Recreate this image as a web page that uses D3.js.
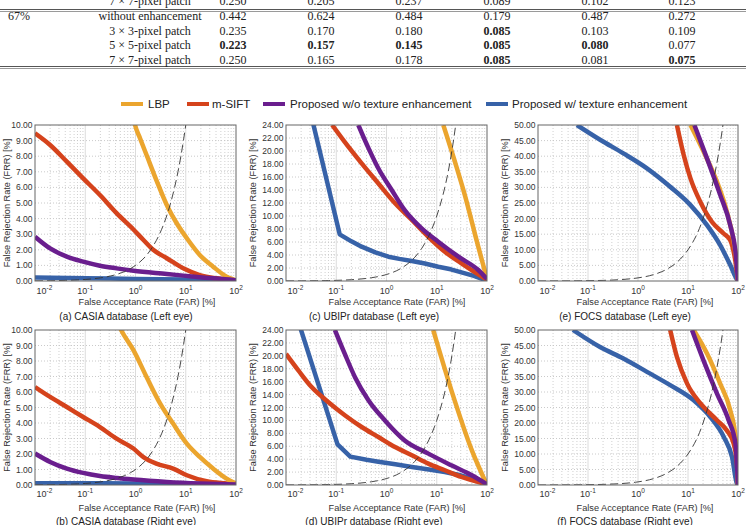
<!DOCTYPE html>
<html><head><meta charset="utf-8">
<script src="https://cdn.jsdelivr.net/npm/d3@7"></script>
<style>body{margin:0;background:#fff}svg{display:block}</style>
</head><body>
<svg id="c" width="747" height="525"></svg>
<script>
// ---------- table data ----------
const tableRowLabels = ["7 × 7-pixel patch","without enhancement","3 × 3-pixel patch","5 × 5-pixel patch","7 × 7-pixel patch"];
const tableGroupLabel = "67%";
const tableValues = [
  [0.250,0.205,0.237,0.089,0.102,0.123],
  [0.442,0.624,0.484,0.179,0.487,0.272],
  [0.235,0.170,0.180,0.085,0.103,0.109],
  [0.223,0.157,0.145,0.085,0.080,0.077],
  [0.250,0.165,0.178,0.085,0.081,0.075]
];
const tableBold = [
  [0,0,0,0,0,0],
  [0,0,0,0,0,0],
  [0,0,0,1,0,0],
  [1,1,1,1,1,0],
  [0,0,0,1,0,1]
];

// ---------- legend ----------
const seriesNames = ["LBP","m-SIFT","Proposed w/o texture enhancement","Proposed w/ texture enhancement"];
const seriesColors = ["#EBA52E","#D5431C","#6A1E8E","#3762A8"];

// ---------- axis tick labels ----------
const farTicks = [0.01,0.1,1,10,100];
const farTickExp = ["-2","-1","0","1","2"];
const xAxisTitle = "False Acceptance Rate (FAR) [%]";
const yAxisTitle = "False Rejection Rate (FRR) [%]";

// ---------- curve data: [FAR %, FRR %] ----------
// (a) CASIA left
const casiaLeftLBP   = [[0.92,10.4],[0.98,10.0],[1.23,9.15],[1.66,8.08],[2.6,6.47],[4.5,4.66],[6.6,3.70],[10.5,2.74],[19,1.67],[35,0.92],[65,0.28],[95,0.06],[100,0.03]];
const casiaLeftSIFT  = [[0.01,9.47],[0.02,8.72],[0.043,7.65],[0.091,6.58],[0.196,5.51],[0.42,4.35],[0.91,3.3],[1.44,2.63],[2.25,2.0],[4.2,1.46],[8.9,0.81],[19,0.38],[41,0.17],[89,0.06],[100,0.04]];
const casiaLeftWo    = [[0.01,2.84],[0.02,2.09],[0.043,1.56],[0.091,1.24],[0.196,0.98],[0.42,0.81],[0.91,0.66],[4.2,0.45],[19,0.24],[89,0.06],[100,0.04]];
const casiaLeftW     = [[0.01,0.22],[0.1,0.18],[1,0.13],[10,0.09],[100,0.04]];
// (b) CASIA right
const casiaRightLBP  = [[0.45,10.4],[0.52,9.98],[0.91,8.7],[1.66,6.97],[3.1,5.25],[5.6,3.96],[10.5,2.67],[19,1.81],[35,1.06],[65,0.41],[100,0.09]];
const casiaRightSIFT = [[0.01,6.32],[0.02,5.68],[0.043,5.03],[0.091,4.39],[0.196,3.74],[0.42,2.99],[0.91,2.35],[1.44,1.80],[2.6,1.38],[5.6,1.06],[10.5,0.63],[26,0.24],[65,0.09],[100,0.03]];
const casiaRightWo   = [[0.01,2.03],[0.02,1.49],[0.043,1.06],[0.091,0.78],[0.196,0.58],[0.42,0.45],[0.91,0.35],[4.2,0.2],[19,0.1],[100,0.03]];
const casiaRightW    = [[0.01,0.12],[0.1,0.11],[1,0.1],[10,0.08],[100,0.04]];
// (c) UBIPr left
const ubiprLeftLBP   = [[13.5,24],[23,18.35],[36,13.3],[63,6.05],[100,0.3]];
const ubiprLeftSIFT  = [[0.083,24],[0.147,21.4],[0.32,18.1],[0.69,15.0],[1.48,11.95],[3.2,9.38],[6.8,6.8],[14.5,4.5],[31,2.72],[67,1.03],[100,0.2]];
const ubiprLeftWo    = [[0.275,24],[0.44,20.4],[0.69,17.3],[1.27,14.0],[2.3,10.9],[5.0,8.1],[10.7,6.05],[27,3.74],[67,1.69],[100,0.3]];
const ubiprLeftW     = [[0.034,24.5],[0.117,7.18],[0.2,6.1],[0.32,5.28],[0.6,4.4],[1.09,3.74],[1.8,3.4],[3.2,3.08],[5.8,2.7],[10.7,2.2],[19,1.8],[31,1.33],[55,0.8],[91,0.15],[100,0.1]];
// (d) UBIPr right
const ubiprRightLBP  = [[8.5,24],[19.5,14.7],[50,5.37],[100,0]];
const ubiprRightSIFT = [[0.01,20.3],[0.0176,17.75],[0.032,15.2],[0.069,12.85],[0.148,10.8],[0.32,8.98],[0.69,7.43],[1.48,5.88],[3.2,4.6],[6.8,3.31],[14.5,2.28],[31,1.24],[100,0.1]];
const ubiprRightWo   = [[0.094,24],[0.148,20.3],[0.236,16.7],[0.44,13.1],[0.93,10.0],[2.3,6.9],[6.8,4.86],[19.5,3.05],[50,1.5],[100,0.1]];
const ubiprRightW    = [[0.019,24.5],[0.106,6.3],[0.19,4.4],[0.4,3.9],[0.69,3.6],[1.5,3.2],[3.2,2.8],[7,2.4],[14.5,2.01],[28,1.55],[50,0.99],[75,0.5],[100,0.1]];
// (e) FOCS left
const focsLeftLBP    = [[11.2,50],[20.6,41.4],[38,31.8],[60,22.2],[82,12.6],[95,5.1],[100,0]];
const focsLeftSIFT   = [[6.0,50],[8.2,40.4],[11.2,32.9],[17.6,25.4],[30,19.0],[51,15.3],[70,13.1],[89,6.2],[100,0]];
const focsLeftWo     = [[13.4,50],[24,39.3],[44,27.6],[70,17.9],[89,9.4],[100,0]];
const focsLeftW      = [[0.06,50],[0.178,45.2],[0.51,40.9],[1.51,36.1],[4.4,30.2],[11.1,24.4],[24,17.9],[44,11.5],[70,5.1],[95,0.5],[100,0]];
// (f) FOCS right
const focsRightLBP   = [[13,50],[24,42.4],[44,32.7],[70,24.1],[89,15.5],[98,6.9],[100,0]];
const focsRightSIFT  = [[4.4,50],[6.0,41.3],[9.6,32.7],[17.8,26.3],[38,20.9],[60,17.6],[82,13.3],[95,6.9],[100,0]];
const focsRightWo    = [[12,50],[20.4,40.2],[38,29.5],[65,20.9],[89,13.3],[100,0]];
const focsRightW     = [[0.05,50],[0.174,44.5],[0.51,40.8],[1.51,36.5],[4.4,32.2],[13,27.3],[28,21.9],[52,15.5],[76,9.0],[95,0.5],[100,0]];

const panelCaptions = ["(a) CASIA database (Left eye)","(b) CASIA database (Right eye)","(c) UBIPr database (Left eye)","(d) UBIPr database (Right eye)","(e) FOCS database (Left eye)","(f) FOCS database (Right eye)"];
const panelYMax  = [10,10,24,24,50,50];
const panelYStep = [1,1,2,2,5,5];
const panelSeries = [
  [casiaLeftLBP,casiaLeftSIFT,casiaLeftWo,casiaLeftW],
  [casiaRightLBP,casiaRightSIFT,casiaRightWo,casiaRightW],
  [ubiprLeftLBP,ubiprLeftSIFT,ubiprLeftWo,ubiprLeftW],
  [ubiprRightLBP,ubiprRightSIFT,ubiprRightWo,ubiprRightW],
  [focsLeftLBP,focsLeftSIFT,focsLeftWo,focsLeftW],
  [focsRightLBP,focsRightSIFT,focsRightWo,focsRightW]
];

// ---------- drawing ----------
const svg = d3.select("#c");
const SERIF = "'Liberation Serif','Times New Roman',serif";
const SANS = "'Liberation Sans',Arial,Helvetica,sans-serif";

// table
const colX = [233,321,409,497,595,682];
const rowY = [5.3,20,34.7,49.3,64];
const tbl = svg.append("g").attr("font-family",SERIF).attr("font-size",12).attr("fill","#222");
[[9.5,"#555"],[11.5,"#9a9a9a"],[66.5,"#555"],[68.5,"#9a9a9a"]].forEach(([y,c])=>{
  tbl.append("line").attr("x1",0).attr("x2",746).attr("y1",y).attr("y2",y).attr("stroke",c).attr("stroke-width",1.2);
});
tbl.append("text").attr("x",8).attr("y",rowY[1]).text(tableGroupLabel);
tableRowLabels.forEach((lab,i)=>{
  tbl.append("text").attr("x",150).attr("y",rowY[i]).attr("text-anchor","middle").text(lab);
  tableValues[i].forEach((v,j)=>{
    tbl.append("text").attr("x",colX[j]).attr("y",rowY[i]).attr("text-anchor","middle")
      .attr("font-weight",tableBold[i][j]?"bold":"normal").text(d3.format(".3f")(v));
  });
});

// legend
const legX = [[121,148],[187,212],[263,290],[486,512]];
const leg = svg.append("g").attr("font-family",SANS).attr("font-size",11.5).attr("fill","#222");
seriesNames.forEach((n,i)=>{
  leg.append("line").attr("x1",legX[i][0]).attr("x2",legX[i][0]+22).attr("y1",104).attr("y2",104)
    .attr("stroke",seriesColors[i]).attr("stroke-width",4);
  leg.append("text").attr("x",legX[i][1]).attr("y",108).text(n);
});

// panel layout
const cols = [{l:35,r:236,ytx:7,tx:147,cx:126},{l:286,r:487,ytx:253,tx:397,cx:374},{l:538,r:738,ytx:505,tx:645,cx:625}];
const rows = [{t:125,b:281,tick:293.5,title:305,cap:319.5},{t:330,b:485,tick:496.5,title:511,cap:524.5}];
const drawOrder = [3,1,0,2];

panelSeries.forEach((series,pi)=>{
  const c = cols[Math.floor(pi/2)], r = rows[pi%2];
  const ymax = panelYMax[pi], ystep = panelYStep[pi];
  const x = d3.scaleLog().domain([0.01,100]).range([c.l,c.r]);
  const y = d3.scaleLinear().domain([0,ymax]).range([r.b,r.t]);
  const g = svg.append("g");
  const cid = "clip"+pi;
  g.append("clipPath").attr("id",cid).append("rect")
    .attr("x",c.l).attr("y",r.t).attr("width",c.r-c.l).attr("height",r.b-r.t);

  // grid
  const yTicks = d3.range(0,ymax+ystep/2,ystep);
  g.selectAll(".hg").data(yTicks.slice(1,-1)).join("line")
    .attr("x1",c.l).attr("x2",c.r).attr("y1",d=>y(d)).attr("y2",d=>y(d))
    .attr("stroke","#bdbdbd").attr("stroke-width",0.8).attr("stroke-dasharray","1,2");
  const minor = x.ticks().filter(t=>!farTicks.includes(t));
  g.selectAll(".vm").data(minor).join("line")
    .attr("x1",d=>x(d)).attr("x2",d=>x(d)).attr("y1",r.t).attr("y2",r.b)
    .attr("stroke","#c4c4c4").attr("stroke-width",0.8).attr("stroke-dasharray","1,2");
  g.selectAll(".vM").data(farTicks.slice(1,-1)).join("line")
    .attr("x1",d=>x(d)).attr("x2",d=>x(d)).attr("y1",r.t).attr("y2",r.b)
    .attr("stroke","#dcdcdc").attr("stroke-width",1);

  // curves
  const smooth = d3.line().x(d=>x(d[0])).y(d=>y(d[1])).curve(d3.curveMonotoneX);
  const straight = d3.line().x(d=>x(d[0])).y(d=>y(d[1])).curve(d3.curveLinear);
  const cg = g.append("g").attr("clip-path",`url(#${cid})`);
  drawOrder.forEach(si=>{
    const gen = ((pi===2||pi===3) && si===3) ? straight : smooth;
    cg.append("path").attr("d",gen(series[si])).attr("fill","none")
      .attr("stroke",seriesColors[si]).attr("stroke-width",4.5).attr("stroke-linejoin","round");
  });
  // EER reference (FRR = FAR)
  const eer = x.ticks().filter(t=>t<=ymax*1.3).map(t=>[t,t]);
  cg.append("path").attr("d",smooth(eer)).attr("fill","none").attr("stroke","#333")
    .attr("stroke-width",0.9).attr("stroke-dasharray","8,4");

  // frame
  g.append("rect").attr("x",c.l).attr("y",r.t).attr("width",c.r-c.l).attr("height",r.b-r.t)
    .attr("fill","none").attr("stroke","#666").attr("stroke-width",1);

  // y ticks
  g.selectAll(".yl").data(yTicks).join("text")
    .attr("x",c.l-2.5).attr("y",d=>y(d)+3).attr("text-anchor","end")
    .attr("font-family",SANS).attr("font-size",8.5).attr("fill","#333").text(d=>d3.format(".2f")(d));
  // x ticks
  farTicks.forEach((t,i)=>{
    const tx = g.append("text").attr("y",r.tick).attr("font-family",SANS).attr("font-size",9).attr("fill","#333")
      .attr("x", i===0 ? c.l+1.5 : x(t)).attr("text-anchor", i===0 ? "start" : "middle");
    tx.append("tspan").text("10");
    tx.append("tspan").attr("dy",-4).attr("font-size",6.5).text(farTickExp[i]);
  });
  // titles
  g.append("text").attr("x",c.tx).attr("y",r.title).attr("text-anchor","middle")
    .attr("font-family",SANS).attr("font-size",9.2).attr("fill","#333").text(xAxisTitle);
  g.append("text").attr("transform",`translate(${c.ytx+3},${(r.t+r.b)/2}) rotate(-90)`)
    .attr("text-anchor","middle").attr("font-family",SANS).attr("font-size",9.2).attr("fill","#333").text(yAxisTitle);
  g.append("text").attr("x",c.cx).attr("y",r.cap).attr("text-anchor","middle")
    .attr("font-family",SANS).attr("font-size",10).attr("fill","#222").text(panelCaptions[pi]);
});
</script>
</body></html>
